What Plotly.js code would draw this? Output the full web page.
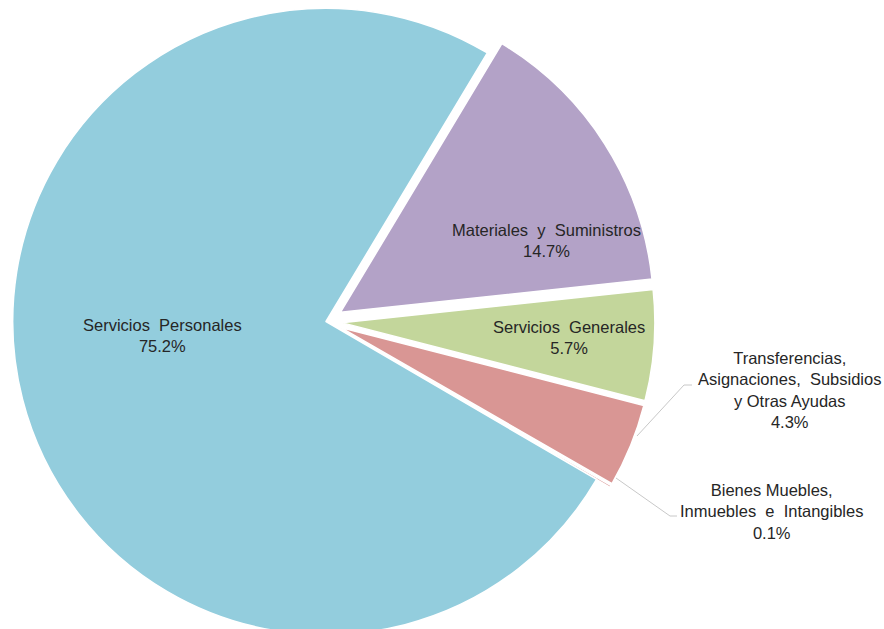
<!DOCTYPE html>
<html>
<head>
<meta charset="utf-8">
<script src="https://cdn.plot.ly/plotly-3.0.1.min.js"></script>
<style>
html,body{margin:0;padding:0;background:#fff;overflow:hidden;width:884px;height:629px;}
#chart{position:absolute;left:-5px;top:-9px;width:900px;height:661px;}
</style>
</head>
<body>
<div id="chart"></div>
<script>
// Data
const labels = ["Materiales y Suministros", "Servicios Generales", "Transferencias, Asignaciones, Subsidios y Otras Ayudas", "Bienes Muebles, Inmuebles e Intangibles", "Servicios Personales"];
const labelLines = [
  ["Materiales  y  Suministros"],
  ["Servicios  Generales"],
  ["Transferencias,", "Asignaciones,  Subsidios", "y Otras Ayudas"],
  ["Bienes Muebles,", "Inmuebles  e  Intangibles"],
  ["Servicios  Personales"]
];
const values = [14.7, 5.7, 4.3, 0.1, 75.2];
const colors = ["#B3A2C7", "#C3D69B", "#D99694", "#D99694", "#93CDDD"];

// Layout helpers (page pixels -> paper coords)
const W = 900, H = 661, OX = -5, OY = -9;
const px = x => (x - OX) / W;
const py = y => 1 - (y - OY) / H;

const total = values.reduce((a, b) => a + b, 0);
const pct = v => (100 * v / total).toFixed(1) + "%";

// label positions (page px), in same order as labels
const labelPos = [[546, 240], [569, 337], [789, 390], [771, 511], [162, 335]];

const annotations = labels.map((l, i) => ({
  xref: "paper", yref: "paper",
  x: px(labelPos[i][0]), y: py(labelPos[i][1]),
  xanchor: "center", yanchor: "middle",
  text: labelLines[i].join("<br>") + "<br>" + pct(values[i]),
  showarrow: false,
  align: "center",
  font: {family: "Liberation Sans, Arial, sans-serif", size: 16.5, color: "#262626"}
}));

const leader = pts => "M " + pts.map(p => px(p[0]) + "," + py(p[1])).join(" L ");
const shapes = [
  {type: "path", xref: "paper", yref: "paper", path: leader([[637, 436], [684, 385], [692, 385]]), line: {color: "#c8c8c8", width: 1}},
  {type: "path", xref: "paper", yref: "paper", path: leader([[616, 478], [670, 516], [677, 516]]), line: {color: "#c8c8c8", width: 1}}
];

const trace = {
  type: "pie",
  labels: labels,
  values: values,
  sort: false,
  direction: "clockwise",
  rotation: 31,
  pull: [0.055, 0.05, 0.05, 0.05, 0],
  marker: {colors: colors, line: {color: "#ffffff", width: 1.5}},
  textinfo: "none",
  hoverinfo: "label+percent",
  domain: {x: [(331 - 330.5) / W, (331 + 330.5) / W], y: [0, 1]}
};

Plotly.newPlot("chart", [trace], {
  width: W, height: H,
  margin: {l: 0, r: 0, t: 0, b: 0},
  showlegend: false,
  paper_bgcolor: "#ffffff",
  annotations: annotations,
  shapes: shapes
}, {displayModeBar: false, staticPlot: true});
</script>
</body>
</html>
